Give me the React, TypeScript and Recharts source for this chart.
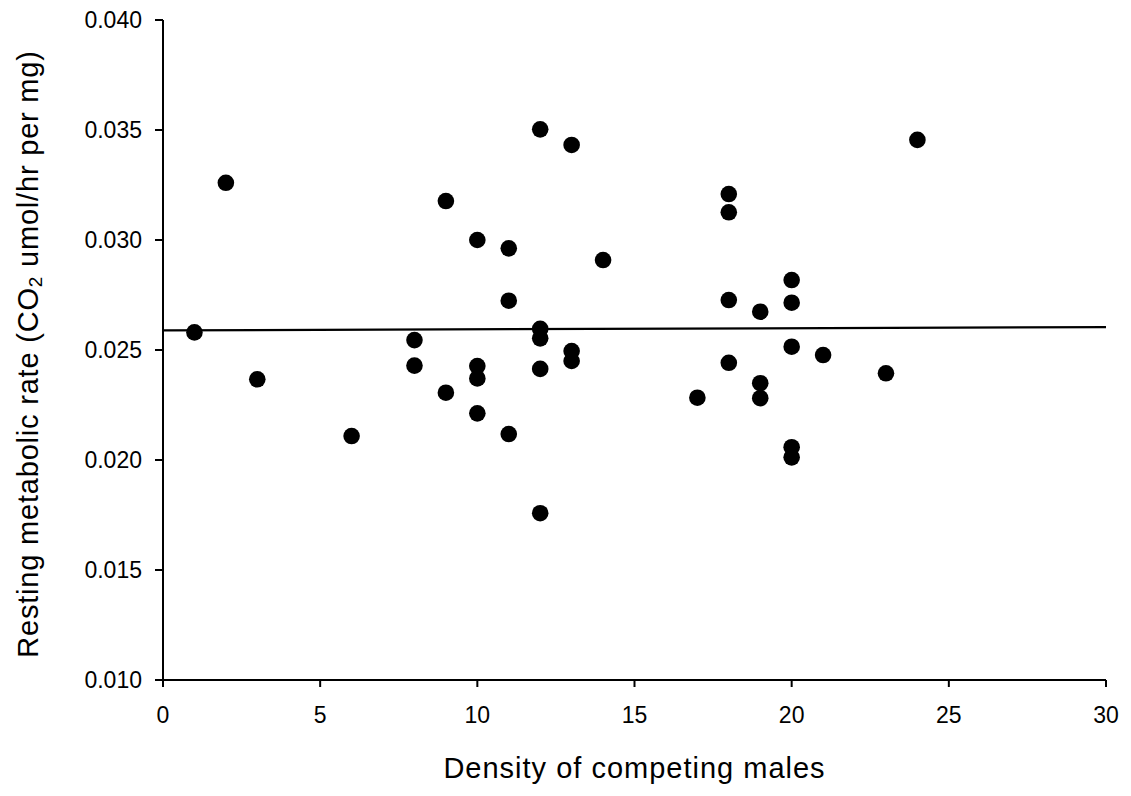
import { Scatter, ScatterChart, XAxis, YAxis } from "recharts";

// competing male density per individual
const density = [
  1, 2, 3, 6, 8, 8, 9, 9, 10, 10, 10, 10, 11, 11, 11, 12, 12, 12, 12, 12, 13, 13, 13, 14, 17, 18, 18, 18,
  18, 19, 19, 19, 20, 20, 20, 20, 20, 21, 23, 24,
];

// resting metabolic rate (CO2 umol/hr per mg)
const rate = [
  0.0258, 0.0326, 0.02367, 0.02109, 0.02545, 0.02429, 0.03177, 0.02306, 0.03, 0.02427, 0.02371, 0.02212,
  0.02962, 0.02724, 0.02118, 0.03503, 0.02596, 0.02553, 0.02414, 0.01758, 0.03432, 0.02495, 0.0245, 0.02909,
  0.02283, 0.03209, 0.03126, 0.02727, 0.02442, 0.02674, 0.02349, 0.02281, 0.02818, 0.02715, 0.02515, 0.02058,
  0.02012, 0.02477, 0.02394, 0.03455,
];

// fitted regression line end points
const fitX = [0, 30];
const fitY = [0.02589, 0.02604];

const xTicks = [0, 5, 10, 15, 20, 25, 30];
const yTicks = [0.01, 0.015, 0.02, 0.025, 0.03, 0.035, 0.04];

const points = density.map((x, i) => ({ x, y: rate[i] }));
const fit = fitX.map((x, i) => ({ x, y: fitY[i] }));

const font = "'Liberation Sans', Arial, sans-serif";

const Dot = (props: any) => <circle cx={props.cx} cy={props.cy} r={8.3} fill="#000" />;

const YTitle = (props: any) => {
  const vb = props.viewBox;
  const cx = vb.x + 28;
  const cy = vb.y + vb.height / 2 + 4;
  return (
    <text
      x={cx}
      y={cy}
      transform={`rotate(-90 ${cx} ${cy})`}
      textAnchor="middle"
      dominantBaseline="central"
      fontFamily={font}
      fontSize={29}
      letterSpacing={0.8}
      fill="#000"
    >
      Resting metabolic rate (CO
      <tspan fontSize={19} dy={7}>
        2
      </tspan>
      <tspan dy={-7}> umol/hr per mg)</tspan>
    </text>
  );
};

const XTitle = (props: any) => {
  const vb = props.viewBox;
  return (
    <text
      x={vb.x + vb.width / 2}
      y={778}
      textAnchor="middle"
      fontFamily={font}
      fontSize={29}
      letterSpacing={1}
      fill="#000"
    >
      Density of competing males
    </text>
  );
};

const App = () => {
  return (
    <div style={{ position: "absolute", left: 0, top: 0, background: "#fff" }}>
      <ScatterChart width={1131} height={796} margin={{ top: 20, right: 25, left: 0, bottom: 0 }}>
        <XAxis
          type="number"
          dataKey="x"
          domain={[0, 30]}
          ticks={xTicks}
          height={116}
          stroke="#000"
          strokeWidth={2}
          tickSize={7}
          tickMargin={20}
          tick={{ fill: "#000", fontSize: 23, fontFamily: font }}
          allowDataOverflow
          label={<XTitle />}
        />
        <YAxis
          type="number"
          dataKey="y"
          domain={[0.01, 0.04]}
          ticks={yTicks}
          width={163}
          stroke="#000"
          strokeWidth={2}
          tickSize={8}
          tickMargin={13}
          tick={{ fill: "#000", fontSize: 23, fontFamily: font }}
          tickFormatter={(v: number) => v.toFixed(3)}
          allowDataOverflow
          label={<YTitle />}
        />
        <Scatter
          data={fit}
          line={{ stroke: "#000", strokeWidth: 2.2 }}
          shape={() => <g />}
          isAnimationActive={false}
        />
        <Scatter data={points} shape={<Dot />} isAnimationActive={false} />
      </ScatterChart>
    </div>
  );
};

export default App;
